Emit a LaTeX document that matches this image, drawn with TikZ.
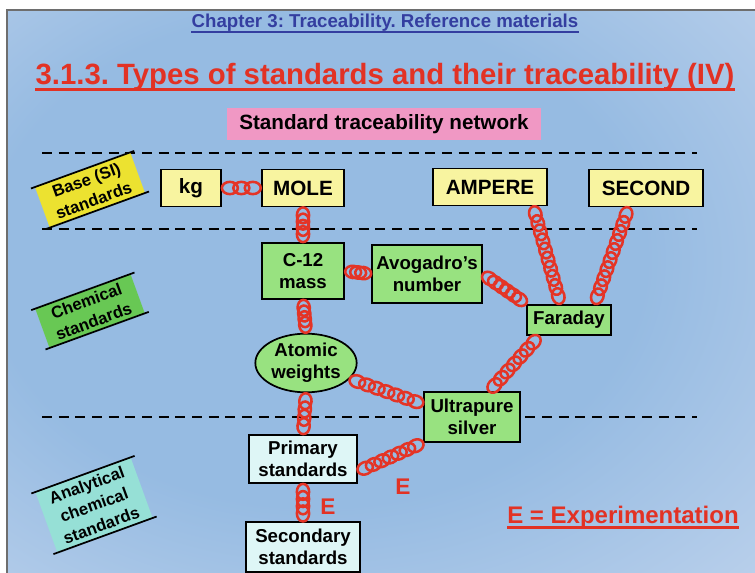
\documentclass[tikz,border=0pt]{standalone}
\usepackage{fontspec}
\setmainfont{Liberation Sans}
\usetikzlibrary{shapes.geometric, positioning, calc}
\definecolor{slideblue}{RGB}{150,187,226}
\definecolor{slidelight}{RGB}{196,214,238}
\definecolor{slidepink}{RGB}{242,228,244}
\definecolor{framegray}{RGB}{110,110,110}
\definecolor{chapblue}{RGB}{52,62,160}
\definecolor{titlered}{RGB}{226,50,36}
\definecolor{chainred}{RGB}{228,52,38}
\definecolor{siyellow}{RGB}{248,244,160}
\definecolor{tagyellow}{RGB}{236,226,48}
\definecolor{chemgreen}{RGB}{152,226,128}
\definecolor{taggreen}{RGB}{104,200,84}
\definecolor{analcyan}{RGB}{222,246,246}
\definecolor{tagcyan}{RGB}{150,224,214}
\definecolor{netpink}{RGB}{240,152,196}
\pgfdeclareradialshading{slidewash}{\pgfpoint{-6bp}{4bp}}{color(0bp)=(slideblue); color(22bp)=(slideblue); color(45bp)=(slidelight); color(68bp)=(slidepink); color(80bp)=(slidepink)}
\frenchspacing
\tikzset{
  block/.style={rectangle, draw=black, line width=1.3pt, align=center,
    inner sep=0pt, font=\fontsize{14}{16.5}\selectfont\bfseries},
  siblock/.style={block, fill=siyellow, minimum height=27.75pt,
    font=\fontsize{15.5}{18}\selectfont\bfseries},
  chemblock/.style={block, fill=chemgreen},
  analblock/.style={block, fill=analcyan},
  tagbox/.style={rectangle, rotate=20, minimum width=76pt, align=center,
    inner sep=0pt, font=\fontsize{12.5}{16}\selectfont\bfseries},
  tagline/.style={line width=1.3pt},
  link/.style={draw=chainred, line width=1.9pt},
  levelline/.style={dash pattern=on 7.5pt off 5pt, line width=1.4pt},
  elabel/.style={text=titlered, inner sep=0pt, font=\fontsize{17}{20}\selectfont\bfseries},
}
% chain of rings between two points: from, to, number of rings
\newcommand{\chainlinks}[3]{%
  \foreach \i in {1,...,#3}{%
    \draw[link] let \p1=($(#2)-(#1)$), \n1={atan2(\y1,\x1)},
                \p2=($(#1)!6pt!(#2)$), \p3=($(#2)!6pt!(#1)$) in
      ($(\p2)!{(\i-1)/(#3-1)}!(\p3)$) ellipse [x radius=6pt, y radius=4.6pt, rotate=\n1];
  }%
}

\begin{document}
\begin{tikzpicture}[x=0.75pt, y=-0.75pt]
  \useasboundingbox (0,0) rectangle (755,573);
  % slide
  \fill[white] (0,0) rectangle (755,573);
  \shade[shading=slidewash] (7,10) rectangle (755,573);
  \draw[framegray, line width=1pt] (7,573) -- (7,10) -- (755,10);

  % headings
  \node[anchor=base, text=chapblue, inner sep=0pt,
    font=\fontsize{14}{16}\selectfont\bfseries] (chap) at (385,28)
    {Chapter 3: Traceability. Reference materials};
  \draw[chapblue, line width=1.6pt] ([yshift=-3pt]chap.base west) -- ([yshift=-3pt]chap.base east);
  \node[anchor=base, text=titlered, inner sep=0pt,
    font=\fontsize{22}{26}\selectfont\bfseries] (title) at (385,85)
    {3.1.3. Types of standards and their traceability (IV)};
  \draw[titlered, line width=2.2pt] ([yshift=-3.2pt]title.base west) -- ([yshift=-3.2pt]title.base east);
  \node[fill=netpink, minimum width=235pt, minimum height=24pt, inner sep=0pt,
    font=\fontsize{15.5}{18}\selectfont\bfseries] (net) at (384,124)
    {Standard traceability network};

  % level separators
  \draw[levelline] (42,153) -- (697,153);
  \draw[levelline] (42,229) -- (697,229);
  \draw[levelline] (42,417) -- (697,417);

  % level tags
  \node[tagbox, fill=tagyellow, minimum height=32pt] (basetag) at (90,190) {Base (SI)\\standards};
  \node[tagbox, fill=taggreen, minimum height=31pt] (chemtag) at (90,311) {Chemical\\standards};
  \node[tagbox, fill=tagcyan, minimum height=48pt] (analtag) at (94,505) {Analytical\\chemical\\standards};
  \foreach \t in {basetag, chemtag, analtag}{
    \draw[tagline] ($(\t.north west)!-3pt!(\t.north east)$) -- ($(\t.north east)!-3pt!(\t.north west)$);
    \draw[tagline] ($(\t.south west)!-3pt!(\t.south east)$) -- ($(\t.south east)!-3pt!(\t.south west)$);
  }

  % base units
  \node[siblock, minimum width=45pt] (kg) at (191,188) {kg};
  \node[siblock, minimum width=62pt] (mole) at (303,188) {MOLE};
  \node[siblock, minimum width=85pt] (amp) at (490,187) {AMPERE};
  \node[siblock, minimum width=85.5pt] (sec) at (646,188) {SECOND};
  % chemical standards
  \node[chemblock, minimum width=62pt, minimum height=42pt] (c12) at (303,271) {C-12\\mass};
  \node[chemblock, minimum width=82.5pt, minimum height=43pt] (avo) at (427,274) {Avogadro’s\\number};
  \node[chemblock, minimum width=63pt, minimum height=23pt] (far) at (569,320) {Faraday};
  \node[chemblock, ellipse, minimum width=76pt, minimum height=44pt] (atw) at (306,363) {Atomic\\weights};
  \node[chemblock, minimum width=72pt, minimum height=37pt] (ag) at (472,417) {Ultrapure\\silver};
  % analytical standards
  \node[analblock, minimum width=81pt, minimum height=36pt] (prim) at (303,459) {Primary\\standards};
  \node[analblock, minimum width=85.5pt, minimum height=37pt] (secd) at (303,547) {Secondary\\standards};

  \coordinate (ampfoot) at ($(amp.south)!.75!(amp.south east)$);
  \coordinate (secfoot) at ($(sec.south)!.3!(sec.south west)$);
  \coordinate (farleft) at ($(far.north)!.2!(far.north west)$);
  \coordinate (farright) at ($(far.north)!.6!(far.north east)$);
  \coordinate (farfoot) at ($(far.south west)!.15!(far.south east)$);
  \coordinate (agtop) at ($(ag.north)!.35!(ag.north east)$);
  \coordinate (agleft) at ($(ag.north west)!.25!(ag.south west)$);
  \coordinate (primright) at ($(prim.east)!.5!(prim.south east)$);

  % chains
  \chainlinks{kg.east}{mole.west}{3}
  \chainlinks{mole.south}{c12.north}{4}
  \chainlinks{c12.east}{avo.west}{3}
  \chainlinks{c12.south}{atw.north}{4}
  \chainlinks{avo.east}{far.north west}{6}
  \chainlinks{ampfoot}{farleft}{10}
  \chainlinks{secfoot}{farright}{10}
  \chainlinks{farfoot}{agtop}{7}
  \chainlinks{atw.-20}{agleft}{7}
  \chainlinks{atw.south}{prim.north}{4}
  \chainlinks{ag.south west}{primright}{7}
  \chainlinks{prim.south}{secd.north}{4}

  % experimentation marks
  \node[elabel] (eprim) at (328,507) {E};
  \node[elabel] (eag) at (403,487) {E};
  \node[anchor=base, text=titlered, inner sep=0pt,
    font=\fontsize{18}{21}\selectfont\bfseries] (legend) at (623,523)
    {E = Experimentation};
  \draw[titlered, line width=2pt] ([yshift=-3.5pt]legend.base west) -- ([yshift=-3.5pt]legend.base east);
\end{tikzpicture}
\end{document}
